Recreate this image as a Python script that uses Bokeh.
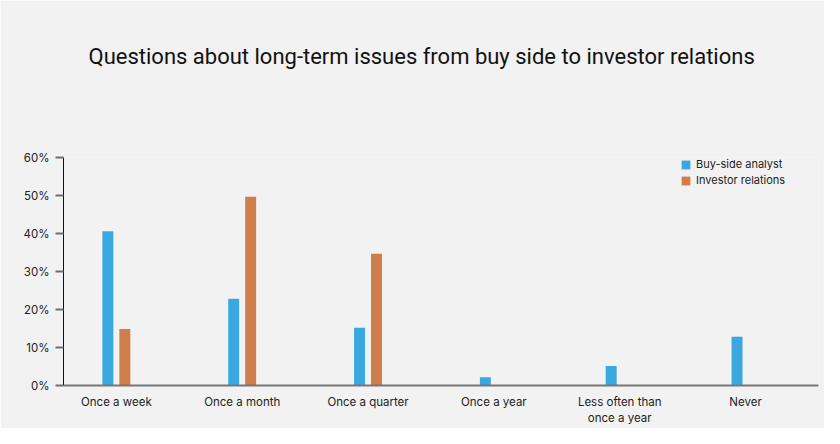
from bokeh.plotting import figure
from bokeh.models import (Range1d, FixedTicker, NumeralTickFormatter, Legend, LegendItem,
                          ColumnDataSource, Title)
from bokeh.transform import dodge
from bokeh.embed import file_html
from bokeh.resources import INLINE

title_text = "Questions about long-term issues from buy side to investor relations"
categories = ["Once a week", "Once a month", "Once a quarter", "Once a year",
              "Less often than\nonce a year", "Never"]
buy_side = [0.406, 0.228, 0.152, 0.022, 0.051, 0.128]
investor_rel = [0.149, 0.497, 0.347, 0.0, 0.0, 0.0]
series_names = ["Buy-side analyst", "Investor relations"]
colors = ["#3aa8e0", "#cf7d4a"]
y_ticks = [0, 0.1, 0.2, 0.3, 0.4, 0.5, 0.6]

BG = "#f2f2f2"
xs = list(range(len(categories)))
src = ColumnDataSource(dict(x=xs, a=buy_side, b=investor_rel))

p = figure(width=824, height=428, output_backend="svg", toolbar_location=None,
           x_range=Range1d(-0.42, 5.58), y_range=Range1d(0, 0.6),
           min_border_left=63, min_border_right=6, min_border_top=157, min_border_bottom=43)
p.background_fill_color = BG
p.border_fill_color = BG
p.outline_line_color = None
p.grid.visible = False

bw = 0.087
r1 = p.vbar(x=dodge("x", -0.0675, range=p.x_range), top="a", width=bw, source=src,
            fill_color=colors[0], line_color=None)
r2 = p.vbar(x=dodge("x", 0.0675, range=p.x_range), top="b", width=bw, source=src,
            fill_color=colors[1], line_color=None)

p.title.text = title_text
p.title.align = "left"
p.title.offset = 25
p.title.text_font = "Roboto"
p.title.text_font_size = "22px"
p.title.text_font_style = "normal"
p.title.text_color = "#111111"
p.title.standoff = 0

# empty spacer between the title and the plot area
p.add_layout(Title(text=" ", text_font_size="1px", standoff=86), "above")

# y axis
ya = p.yaxis[0]
ya.ticker = FixedTicker(ticks=y_ticks)
ya.formatter = NumeralTickFormatter(format="0%")
ya.axis_line_color = "#111111"
ya.axis_line_width = 1
ya.major_tick_line_color = "#6f6f6f"
ya.major_tick_line_width = 2
ya.major_tick_out = 8
ya.major_tick_in = 0
ya.minor_tick_line_color = None
ya.major_label_text_font = "Inter"
ya.major_label_text_font_size = "11.5px"
ya.major_label_text_color = "#222222"
ya.major_label_standoff = 6

# x axis
xa = p.xaxis[0]
xa.ticker = FixedTicker(ticks=xs)
xa.major_label_overrides = {i: c for i, c in zip(xs, categories)}
xa.axis_line_color = "#777777"
xa.axis_line_width = 2
xa.major_tick_line_color = None
xa.minor_tick_line_color = None
xa.major_label_text_font = "Inter"
xa.major_label_text_font_size = "11.5px"
xa.major_label_text_color = "#222222"
xa.major_label_standoff = 3

legend = Legend(items=[LegendItem(label=series_names[0], renderers=[r1]),
                       LegendItem(label=series_names[1], renderers=[r2])],
                location=(617, 198), padding=0, margin=0, spacing=2,
                glyph_width=11, glyph_height=11, label_height=11, label_standoff=5,
                label_text_font="Inter", label_text_font_size="11px",
                label_text_color="#222222", background_fill_alpha=0,
                border_line_color=None)
p.add_layout(legend)

open("out.html", "w").write(file_html(p, INLINE))
